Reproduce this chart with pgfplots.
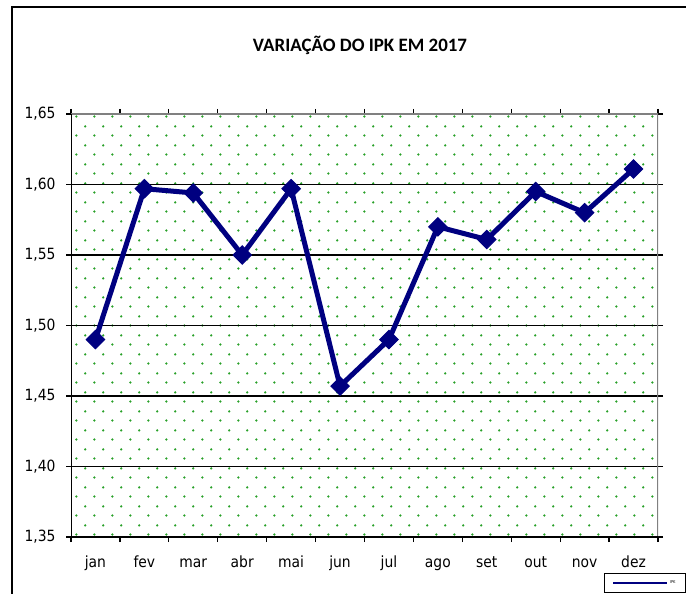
\documentclass[border=0pt]{standalone}
\usepackage{pgfplots}
\pgfplotsset{compat=1.18}
\usepackage{fontspec}
\setmainfont{DejaVu Sans Condensed}
\newfontfamily\titlefont{Carlito}
\usetikzlibrary{patterns.meta}
\definecolor{navy}{RGB}{0,0,128}
\definecolor{dotgreen}{RGB}{40,160,40}
\tikzdeclarepattern{name=greendots, type=uncolored,
  bounding box={(0,0) and (18.3bp,18.6bp)},
  tile size={(18.3bp,18.6bp)},
  code={\fill (4.5bp,4.6bp) circle (1.3bp); \fill (13.65bp,13.9bp) circle (1.3bp);}}
\pgfplotstableread{
x y
0 1.490
1 1.597
2 1.594
3 1.550
4 1.597
5 1.457
6 1.490
7 1.570
8 1.561
9 1.595
10 1.580
11 1.611
}\ipk
\begin{document}
\begin{tikzpicture}
\path[use as bounding box] (0,0) rectangle (686bp,594bp);
\draw[line width=2bp] (12bp,0) -- (12bp,587bp) -- (686bp,587bp);
\node[font=\titlefont\bfseries\fontsize{19}{22}\selectfont] at (360bp,549bp) {VARIAÇÃO DO IPK EM 2017};
\begin{axis}[at={(71bp,57bp)}, anchor=south west, scale only axis,
  width=587bp, height=423bp,
  xmin=-0.5, xmax=11.5, ymin=1.35, ymax=1.65,
  xtick={-0.5,0.5,1.5,2.5,3.5,4.5,5.5,6.5,7.5,8.5,9.5,10.5,11.5},
  xticklabels={jan,fev,mar,abr,mai,jun,jul,ago,set,out,nov,dez,{}},
  xticklabel style={xshift=24.46bp, yshift=-13bp, text height=1.6ex, text depth=0.3ex},
  ytick={1.35,1.40,1.45,1.50,1.55,1.60,1.65},
  /pgf/number format/assume math mode=true,
  yticklabel style={xshift=-7bp, /pgf/number format/.cd, fixed, fixed zerofill, precision=2, use comma},
  tick align=outside, major tick length=5bp,
  tick style={black, line width=1.2bp},
  ymajorgrids, grid style={black, line width=1.5bp},
  axis line style={draw=none},
  axis background/.style={pattern=greendots, pattern color=dotgreen},
  tick label style={font=\fontsize{15.5}{18}\selectfont},
  legend style={at={(rel axis cs:0.908,-0.086)}, anchor=north west, draw=black, line width=1bp,
    font=\fontsize{4}{5}\selectfont, inner xsep=8bp, inner ysep=5bp},
  legend image code/.code={\draw[#1] (0bp,0bp) -- (54bp,0bp);},
]
\addplot[navy, line width=5bp, mark=square*, mark size=6.5bp, mark options={solid, rotate=45, line width=1bp}, forget plot] table[x=x,y=y] {\ipk};
\draw[gray, line width=1.5bp] (rel axis cs:0,1) -- (rel axis cs:1,1) -- (rel axis cs:1,0);
\draw[black, line width=1.5bp] (rel axis cs:0,1) -- (rel axis cs:0,0) -- (rel axis cs:1,0);
\addlegendimage{navy, line width=1.5bp}
\addlegendentry{IPK}
\end{axis}
\end{tikzpicture}
\end{document}
